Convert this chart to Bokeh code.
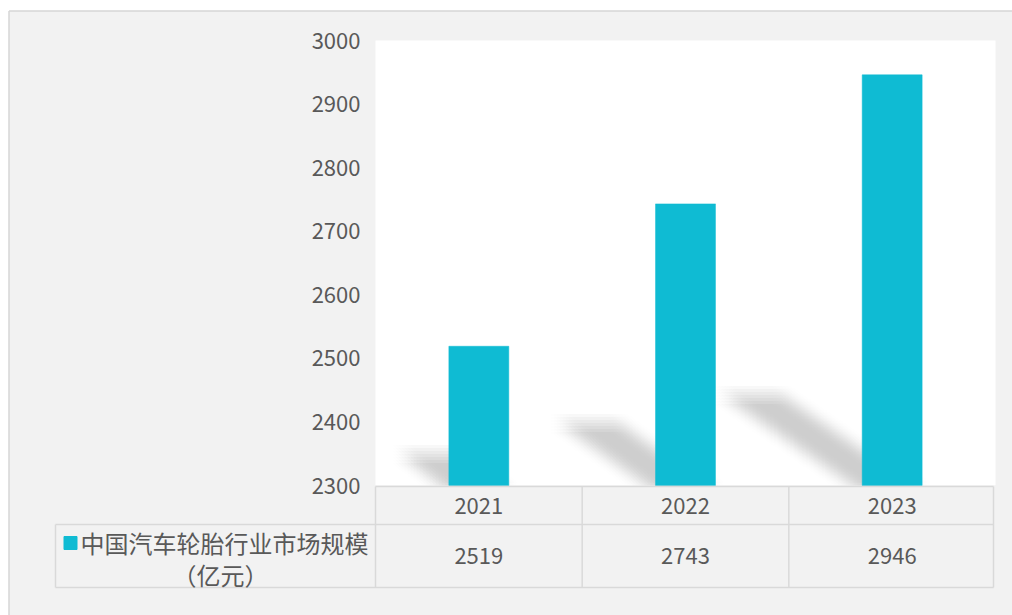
from bokeh.plotting import figure
from bokeh.models import Range1d
from bokeh.core.properties import value
from bokeh.embed import file_html
from bokeh.resources import INLINE

# ---- data ----
years = ["2021", "2022", "2023"]
market_size = [2519, 2743, 2946]
y_ticks = [2300, 2400, 2500, 2600, 2700, 2800, 2900, 3000]
series_name = "中国汽车轮胎行业市场规模"
unit_label = "（亿元）"

# ---- style ----
BAR = "#0fbbd3"
TXT = "#595959"
LINE = "#d9d9d9"
BG = "#f2f2f2"
FONT = value("Noto Sans CJK SC")

W, H = 1012, 615
BASE, TOP = 2300, 3000
PLOT_L, PLOT_R, PLOT_T, PLOT_B = 375, 995, 40, 485   # px of white plot area
ncat = len(years)
ux = (PLOT_R - PLOT_L) / ncat
uy = (PLOT_B - PLOT_T) / (TOP - BASE)
x_start, x_end = -PLOT_L / ux, (W - PLOT_L) / ux
y_start, y_end = BASE - (H - PLOT_B) / uy, TOP + PLOT_T / uy

p = figure(width=W, height=H, output_backend="svg", toolbar_location=None, title=None,
           x_range=Range1d(x_start, x_end), y_range=Range1d(y_start, y_end),
           x_axis_location=None, y_axis_location=None,
           min_border=0, min_border_left=0, min_border_right=0, min_border_top=0, min_border_bottom=0,
           background_fill_color="white", border_fill_color="white")
p.extra_x_ranges = {"px": Range1d(0, W)}
p.extra_y_ranges = {"px": Range1d(H, 0)}
p.grid.visible = False
p.outline_line_color = None

# outer panel
p.quad(left=[8.5], right=[W], top=[10.5], bottom=[H], fill_color=BG, line_color=None,
       x_range_name="px", y_range_name="px")
p.segment(x0=[8.5, 8.5], y0=[10.5, 10.5], x1=[W, 8.5], y1=[10.5, H], line_color="#d6d6d6",
          line_width=1.5, x_range_name="px", y_range_name="px")

# white plot area
p.quad(left=[0], right=[ncat], bottom=[BASE], top=[TOP], fill_color="white", line_color=None)

# soft shadows behind bars (box-blurred by offset copies)
BAR_W = 0.29
sdx, sdy = 0.00105, 0.22
offs = [-9, -6, -3, 0, 3, 6, 9]
for i, v in enumerate(market_size):
    xc = i + 0.5
    h = v - BASE
    dx, dy = sdx * h, sdy * h
    xl, xr = xc - BAR_W / 2, xc + BAR_W / 2
    sx, sy = [], []
    for ox in offs:
        for oy in offs:
            ddx, ddy = ox / ux, oy / uy
            sx.append([xl + ddx, xr + ddx, xr - dx + ddx, xl - dx + ddx])
            sy.append([BASE + ddy - 6 / uy, BASE + ddy - 6 / uy, BASE + dy + ddy, BASE + dy + ddy])
    p.patches(sx, sy, fill_color="#a6a6a6", fill_alpha=0.015, line_color=None)

# cover below baseline
p.quad(left=[-0.01], right=[ncat + 0.01], bottom=[y_start], top=[BASE], fill_color=BG, line_color=None)

# bars
xs = [i + 0.5 for i in range(ncat)]
p.vbar(x=xs, top=market_size, bottom=BASE, width=BAR_W, fill_color=BAR, line_color=BAR, line_width=0.5)

# y tick labels
p.text(x=[360] * len(y_ticks), y=y_ticks, text=[str(t) for t in y_ticks], x_range_name="px",
       text_align="right", text_baseline="middle", text_font=FONT, text_font_size="22px", text_color=TXT)

# table lines
p.segment(x0=[PLOT_L, 55, 55], y0=[486, 524, 587], x1=[993, 993, 993], y1=[486, 524, 587],
          line_color=LINE, line_width=1.5, x_range_name="px", y_range_name="px")
p.segment(x0=[55], y0=[524], x1=[55], y1=[587], line_color=LINE, line_width=1.5,
          x_range_name="px", y_range_name="px")
vx = [0, 1, 2, (993 - PLOT_L) / ux]
p.segment(x0=vx, y0=[486] * 4, x1=vx, y1=[587] * 4, line_color=LINE, line_width=1.5, y_range_name="px")

# table texts
p.text(x=xs, y=[505.5] * ncat, text=years, y_range_name="px", text_align="center",
       text_baseline="middle", text_font=FONT, text_font_size="22px", text_color=TXT)
p.text(x=xs, y=[555.5] * ncat, text=[str(v) for v in market_size], y_range_name="px",
       text_align="center", text_baseline="middle", text_font=FONT, text_font_size="22px", text_color=TXT)

# legend cell
p.scatter(x=[70], y=[542.5], marker="square", size=13, fill_color=BAR, line_color=BAR,
          x_range_name="px", y_range_name="px")
p.text(x=[80], y=[541.5], text=[series_name], x_range_name="px", y_range_name="px",
       text_align="left", text_baseline="middle", text_font=FONT, text_font_size="24px", text_color=TXT)
p.text(x=[220], y=[573.5], text=[unit_label], x_range_name="px", y_range_name="px",
       text_align="center", text_baseline="middle", text_font=FONT, text_font_size="24px", text_color=TXT)

open("out.html", "w").write(file_html(p, INLINE))
